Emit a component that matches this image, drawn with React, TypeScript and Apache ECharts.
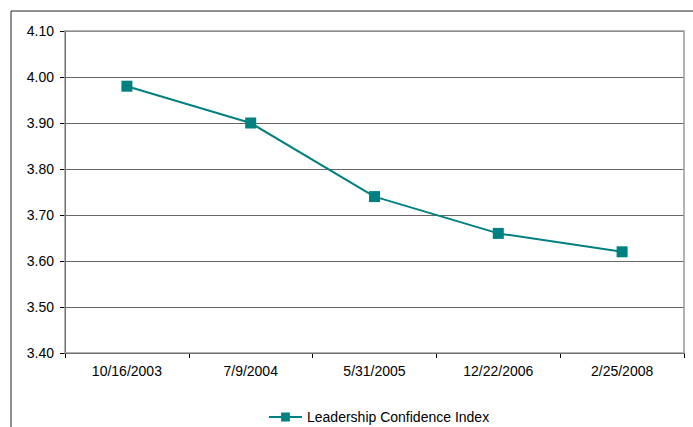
import React, { useEffect, useRef } from "react";
import * as echarts from "echarts";

const categories = ["10/16/2003", "7/9/2004", "5/31/2005", "12/22/2006", "2/25/2008"];
const values = [3.98, 3.9, 3.74, 3.66, 3.62];
const seriesName = "Leadership Confidence Index";

export default function App() {
  const ref = useRef<HTMLDivElement>(null);
  useEffect(() => {
    if (!ref.current) return;
    const chart = echarts.init(ref.current, undefined, { renderer: "svg" });
    const font = "'Liberation Sans', Arial, sans-serif";
    chart.setOption({
      animation: false,
      backgroundColor: "#fff",
      textStyle: { fontFamily: font },
      grid: { left: 65, top: 31, right: 9, bottom: 74, containLabel: false },
      graphic: [
        {
          type: "rect",
          shape: { x: 11, y: 11, width: 720, height: 500 },
          style: { fill: "none", stroke: "#222", lineWidth: 1 },
          silent: true,
          z: 0,
        },
        {
          type: "rect",
          shape: { x: 65, y: 31, width: 619, height: 322 },
          style: { fill: "none", stroke: "#999", lineWidth: 1.5 },
          silent: true,
          z: 1,
        },
      ],
      xAxis: {
        type: "category",
        data: categories,
        boundaryGap: true,
        axisLine: { show: true, lineStyle: { color: "#000", width: 1 } },
        axisTick: { show: true, length: 5, lineStyle: { color: "#000" } },
        axisLabel: { color: "#000", fontSize: 14, fontFamily: font, margin: 11 },
        splitLine: { show: false },
      },
      yAxis: {
        type: "value",
        min: 3.4,
        max: 4.1,
        interval: 0.1,
        axisLine: { show: true, lineStyle: { color: "#000", width: 1 } },
        axisTick: { show: true, length: 5, lineStyle: { color: "#000" } },
        axisLabel: {
          color: "#000",
          fontSize: 14,
          fontFamily: font,
          margin: 11,
          formatter: (v: number) => v.toFixed(2),
        },
        splitLine: { show: true, lineStyle: { color: "#666", width: 1 } },
      },
      legend: {
        left: 263,
        top: 405,
        itemWidth: 33,
        itemHeight: 11,
        itemGap: 4,
        textStyle: { color: "#000", fontSize: 14, fontFamily: font },
        data: [seriesName],
      },
      series: [
        {
          name: seriesName,
          type: "line",
          data: values,
          symbol: "rect",
          symbolSize: 11,
          lineStyle: { color: "#008080", width: 2 },
          itemStyle: { color: "#008080" },
          z: 5,
        },
      ],
    });
    return () => chart.dispose();
  }, []);
  return <div ref={ref} style={{ width: 693, height: 427, position: "absolute", left: 0, top: 0 }} />;
}
